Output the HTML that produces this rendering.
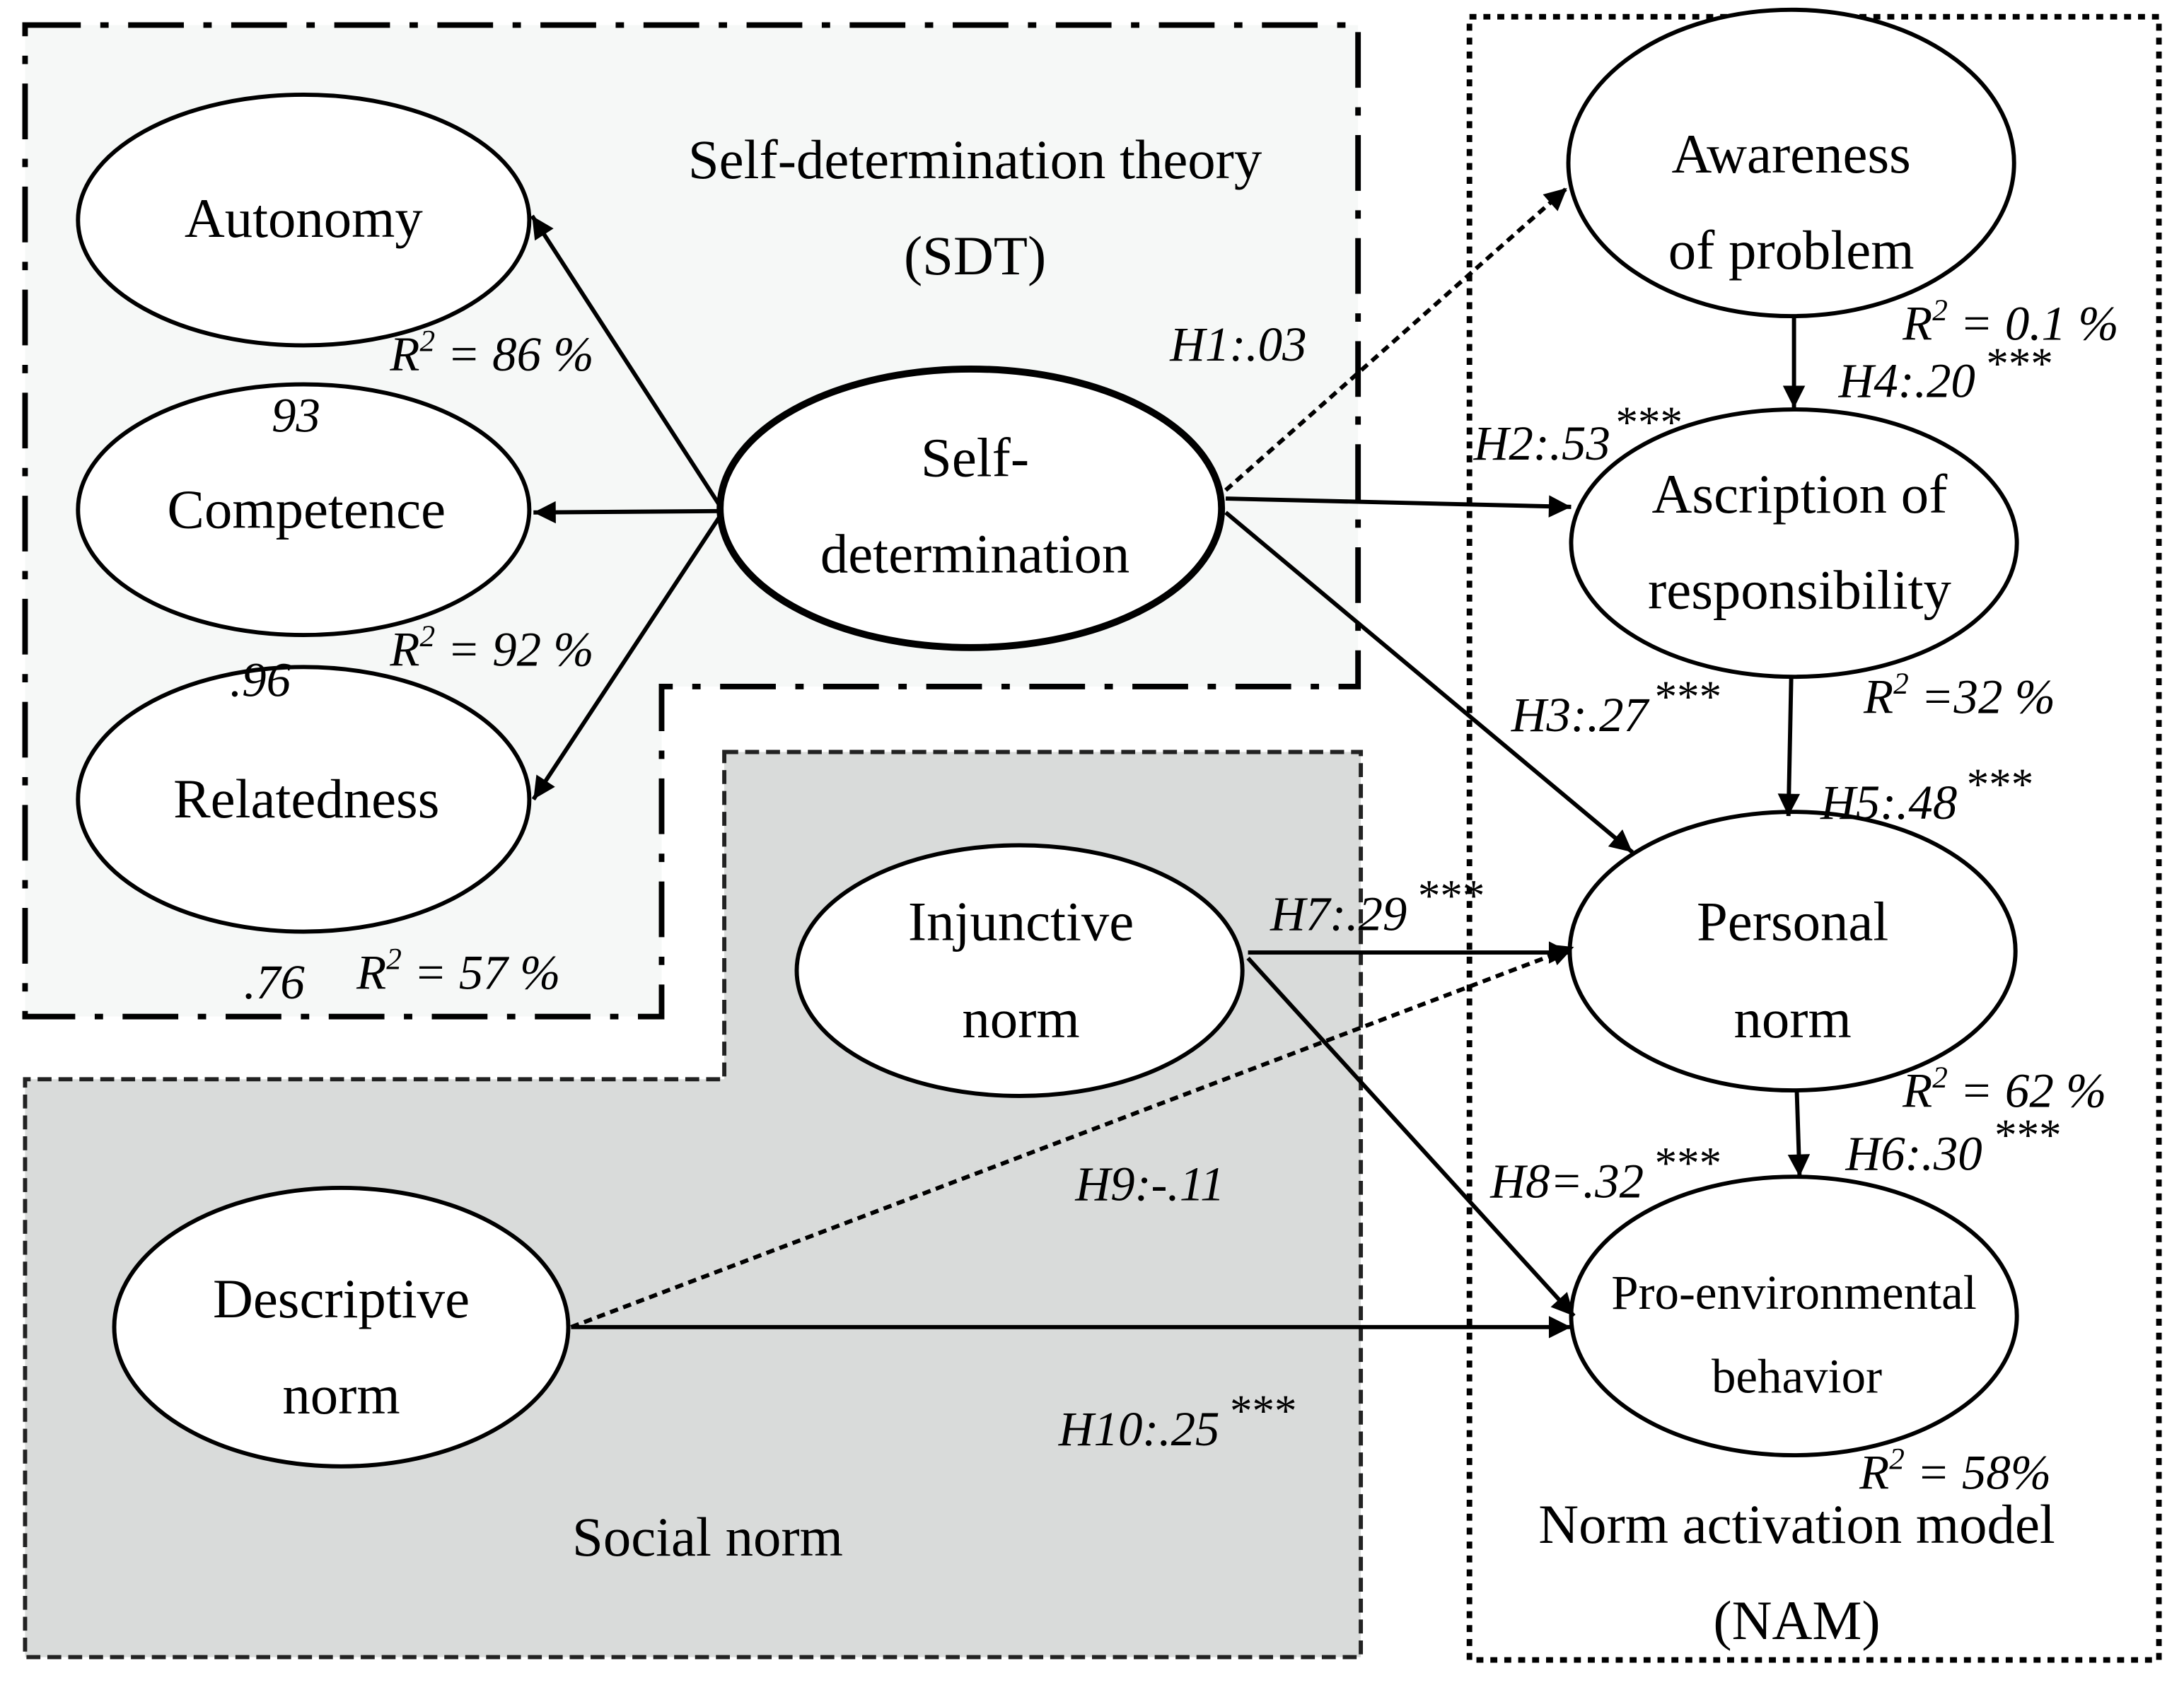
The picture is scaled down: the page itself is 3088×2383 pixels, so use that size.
<!DOCTYPE html>
<html><head><meta charset="utf-8"><style>html,body{margin:0;padding:0;background:#fff}svg{display:block}text{font-family:"Liberation Serif",serif;fill:#000}.m{font-size:40px}.i{font-size:35px;font-style:italic}.s{font-size:22px}</style></head><body>
<svg width="3088" height="2383" viewBox="0 0 1568 1210" xmlns="http://www.w3.org/2000/svg">
<defs><marker id="b" viewBox="0 0 10 10" refX="10" refY="5" markerWidth="18" markerHeight="16" orient="auto" markerUnits="userSpaceOnUse"><path d="M0,0 L10,5 L0,10 z" fill="#000"/></marker></defs>
<rect width="1568" height="1210" fill="#fff"/>
<path d="M18,18 H975 V493 H475 V730 H18 Z" fill="#f6f8f7" stroke="#000" stroke-width="4" stroke-dasharray="40,14,6,14"/>
<path d="M520,540 H977 V1190 H18 V775 H520 Z" fill="#d9dbda" stroke="#222" stroke-width="3" stroke-dasharray="10,5"/>
<rect x="1055" y="12" width="495" height="1180" fill="none" stroke="#000" stroke-width="4" stroke-dasharray="5,5"/>
<g fill="#fff" stroke="#000" stroke-width="3">
<ellipse cx="218" cy="158" rx="162" ry="90"/>
<ellipse cx="218" cy="366" rx="162" ry="90"/>
<ellipse cx="218" cy="574" rx="162" ry="95"/>
<ellipse cx="697" cy="365" rx="180" ry="100" stroke-width="5"/>
<ellipse cx="1286" cy="117" rx="160" ry="110"/>
<ellipse cx="1288" cy="390" rx="160" ry="96"/>
<ellipse cx="1287" cy="683" rx="160" ry="100"/>
<ellipse cx="1288" cy="945" rx="160" ry="100"/>
<ellipse cx="732" cy="697" rx="160" ry="90"/>
<ellipse cx="245" cy="953" rx="163" ry="100"/>
</g>
<g stroke="#000" stroke-width="3" fill="none">
<line x1="518" y1="365" x2="382" y2="155" marker-end="url(#b)"/>
<line x1="518" y1="367" x2="383" y2="368" marker-end="url(#b)"/>
<line x1="518" y1="369" x2="383" y2="574" marker-end="url(#b)"/>
<line x1="880" y1="352" x2="1125" y2="135" stroke-dasharray="6,4" marker-end="url(#b)"/>
<line x1="880" y1="358" x2="1128" y2="364" marker-end="url(#b)"/>
<line x1="880" y1="368" x2="1172" y2="612" marker-end="url(#b)"/>
<line x1="1288" y1="228" x2="1288" y2="293" marker-end="url(#b)"/>
<line x1="1286" y1="487" x2="1284" y2="586" marker-end="url(#b)"/>
<line x1="1290" y1="783" x2="1292" y2="845" marker-end="url(#b)"/>
<line x1="896" y1="684" x2="1128" y2="684" marker-end="url(#b)"/>
<line x1="896" y1="688" x2="1130" y2="945" marker-end="url(#b)"/>
<line x1="410" y1="953" x2="1130" y2="680" stroke-dasharray="6,4" marker-end="url(#b)"/>
<line x1="410" y1="953" x2="1128" y2="953" marker-end="url(#b)"/>
</g>
<g class="m" text-anchor="middle">
<text x="218" y="170">Autonomy</text>
<text x="220" y="379">Competence</text>
<text x="220" y="587">Relatedness</text>
<text x="700" y="342">Self-</text>
<text x="700" y="411">determination</text>
<text x="1286" y="124">Awareness</text>
<text x="1286" y="193">of problem</text>
<text x="1292" y="368">Ascription of</text>
<text x="1292" y="437">responsibility</text>
<text x="1287" y="675">Personal</text>
<text x="1287" y="745">norm</text>
<text x="733" y="675">Injunctive</text>
<text x="733" y="745">norm</text>
<text x="245" y="946">Descriptive</text>
<text x="245" y="1015">norm</text>
<text x="700" y="128">Self-determination theory</text>
<text x="700" y="197">(SDT)</text>
<text x="508" y="1117">Social norm</text>
<text x="1290" y="1108">Norm activation model</text>
<text x="1290" y="1177">(NAM)</text>
<text x="1288" y="940" style="font-size:35px">Pro-environmental</text>
<text x="1290" y="1000" style="font-size:35px">behavior</text>
</g>
<g class="i">
<text x="280" y="266">R<tspan class="s" dy="-14">2</tspan><tspan dy="14"> = 86 %</tspan></text>
<text x="195" y="310">93</text>
<text x="280" y="478">R<tspan class="s" dy="-14">2</tspan><tspan dy="14"> = 92 %</tspan></text>
<text x="165" y="500">.96</text>
<text x="175" y="717">.76</text>
<text x="256" y="710">R<tspan class="s" dy="-14">2</tspan><tspan dy="14"> = 57 %</tspan></text>
<text x="840" y="259">H1:.03</text>
<text x="1366" y="244">R<tspan class="s" dy="-14">2</tspan><tspan dy="14"> = 0.1 %</tspan></text>
<text x="1320" y="285">H4:.20</text>
<text x="1058" y="330">H2:.53</text>
<text x="1085" y="525">H3:.27</text>
<text x="1338" y="512">R<tspan class="s" dy="-14">2</tspan><tspan dy="14"> =32 %</tspan></text>
<text x="1307" y="588">H5:.48</text>
<text x="912" y="668">H7:.29</text>
<text x="1366" y="795">R<tspan class="s" dy="-14">2</tspan><tspan dy="14"> = 62 %</tspan></text>
<text x="1325" y="840">H6:.30</text>
<text x="1070" y="860">H8=.32</text>
<text x="772" y="862">H9:-.11</text>
<text x="760" y="1038">H10:.25</text>
<text x="1335" y="1069">R<tspan class="s" dy="-14">2</tspan><tspan dy="14"> = 58%</tspan></text>
</g>
<g style="font-size:32px">
<text x="1426" y="272">***</text>
<text x="1160" y="314">***</text>
<text x="1188" y="511">***</text>
<text x="1412" y="574">***</text>
<text x="1018" y="654">***</text>
<text x="1432" y="826">***</text>
<text x="1188" y="846">***</text>
<text x="883" y="1024">***</text>
</g>
</svg>
</body></html>
